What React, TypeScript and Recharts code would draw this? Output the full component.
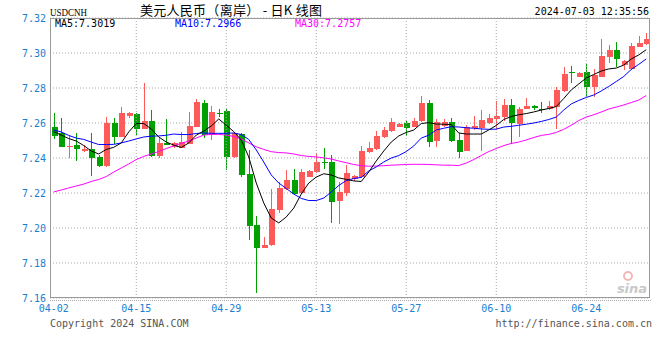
import React from "react";
import {
  Bar,
  CartesianGrid,
  ComposedChart,
  Line,
  ReferenceLine,
  XAxis,
  YAxis,
} from "recharts";

// trading days shown (Sina keeps the Saturday session as its own candle)
const dates = [
  "04-02", "04-03", "04-04", "04-05", "04-06",
  "04-08", "04-09", "04-10", "04-11", "04-12", "04-13",
  "04-15", "04-16", "04-17", "04-18", "04-19", "04-20",
  "04-22", "04-23", "04-24", "04-25", "04-26", "04-27",
  "04-29", "04-30", "05-01", "05-02", "05-03", "05-04",
  "05-06", "05-07", "05-08", "05-09", "05-10", "05-11",
  "05-13", "05-14", "05-15", "05-16", "05-17", "05-18",
  "05-20", "05-21", "05-22", "05-23", "05-24", "05-25",
  "05-27", "05-28", "05-29", "05-30", "05-31", "06-01",
  "06-03", "06-04", "06-05", "06-06", "06-07", "06-08",
  "06-10", "06-11", "06-12", "06-13", "06-14", "06-15",
  "06-17", "06-18", "06-19", "06-20", "06-21", "06-22",
  "06-24", "06-25", "06-26", "06-27", "06-28", "06-29",
  "07-01", "07-02", "07-03",
];

const openPrices = [
  7.2577, 7.2543, 7.2462, 7.2474, 7.244, 7.245, 7.2404, 7.2354, 7.26, 7.2522,
  7.2642, 7.2651, 7.2567, 7.2611, 7.2411, 7.2487, 7.2465, 7.2459, 7.248, 7.2579,
  7.2713, 7.2531, 7.2657, 7.2669, 7.2407, 7.2535, 7.2309, 7.2017, 7.1887, 7.1903,
  7.2103, 7.2223, 7.2274, 7.2198, 7.2293, 7.2322, 7.2379, 7.2379, 7.2156, 7.2202,
  7.2278, 7.229, 7.2433, 7.2453, 7.2518, 7.2556, 7.2579, 7.2602, 7.2579, 7.2611,
  7.2716, 7.2497, 7.2585, 7.2606, 7.2503, 7.2442, 7.257, 7.257, 7.2598, 7.2621,
  7.2633, 7.2703, 7.2594, 7.268, 7.2697, 7.2682, 7.268, 7.269, 7.2783, 7.2889,
  7.2865, 7.289, 7.2807, 7.2865, 7.2979, 7.3017, 7.2931, 7.2907, 7.3036, 7.3051,
];

const highPrices = [
  7.2659, 7.2629, 7.2523, 7.2543, 7.2477, 7.2545, 7.2417, 7.2634, 7.2629, 7.2691,
  7.2662, 7.2655, 7.2827, 7.2674, 7.2513, 7.2621, 7.2493, 7.255, 7.2663, 7.2735,
  7.2731, 7.2695, 7.268, 7.268, 7.255, 7.2545, 7.2446, 7.2069, 7.195, 7.2223,
  7.2265, 7.2331, 7.2337, 7.2337, 7.2331, 7.243, 7.2455, 7.2417, 7.2261, 7.236,
  7.2303, 7.2469, 7.2493, 7.2554, 7.2579, 7.2627, 7.26, 7.2611, 7.2629, 7.2754,
  7.2731, 7.2621, 7.2621, 7.2627, 7.2541, 7.2589, 7.264, 7.2674, 7.265, 7.2726,
  7.2737, 7.2735, 7.2693, 7.2745, 7.2705, 7.2722, 7.2726, 7.2807, 7.2918, 7.2926,
  7.2891, 7.2937, 7.2907, 7.3078, 7.3046, 7.3061, 7.296, 7.3059, 7.3097, 7.3116,
];

const lowPrices = [
  7.2509, 7.2463, 7.24, 7.2383, 7.2434, 7.2297, 7.2346, 7.2346, 7.248, 7.2518,
  7.2627, 7.2533, 7.2563, 7.2408, 7.2402, 7.2472, 7.2455, 7.2455, 7.2478, 7.2575,
  7.2516, 7.2503, 7.2636, 7.2331, 7.2398, 7.2293, 7.1931, 7.163, 7.1885, 7.1899,
  7.2087, 7.2217, 7.2189, 7.2194, 7.229, 7.2316, 7.2337, 7.203, 7.2023, 7.2183,
  7.227, 7.2284, 7.2427, 7.2446, 7.2513, 7.255, 7.2575, 7.2526, 7.2577, 7.2607,
  7.2461, 7.2465, 7.2579, 7.249, 7.2398, 7.244, 7.256, 7.2442, 7.2596, 7.256,
  7.2613, 7.2478, 7.2522, 7.2678, 7.2674, 7.2655, 7.2674, 7.2564, 7.2775, 7.2827,
  7.2863, 7.275, 7.275, 7.2863, 7.2941, 7.2918, 7.2903, 7.2903, 7.3034, 7.3046,
];

const closePrices = [
  7.2526, 7.2465, 7.2466, 7.2451, 7.2451, 7.2402, 7.2354, 7.26, 7.2522, 7.2659,
  7.2659, 7.2566, 7.2611, 7.2411, 7.2487, 7.2474, 7.2484, 7.2493, 7.2583, 7.2722,
  7.2531, 7.2663, 7.2654, 7.2407, 7.2541, 7.2303, 7.2013, 7.1887, 7.1903, 7.2109,
  7.223, 7.2274, 7.2194, 7.2322, 7.2327, 7.2379, 7.2377, 7.215, 7.2204, 7.2313,
  7.2297, 7.2442, 7.2459, 7.2523, 7.256, 7.2607, 7.2594, 7.257, 7.2613, 7.2716,
  7.2493, 7.2606, 7.2606, 7.2497, 7.2436, 7.2579, 7.2583, 7.2617, 7.2627, 7.264,
  7.2703, 7.2598, 7.268, 7.2697, 7.2684, 7.2679, 7.2697, 7.2789, 7.288, 7.2886,
  7.2887, 7.2804, 7.2874, 7.2983, 7.3017, 7.2966, 7.2954, 7.3042, 7.3059, 7.308,
];

// moving averages as drawn on the chart
const ma5 = [
  7.2551, 7.2531, 7.2511, 7.2497, 7.2471, 7.244, 7.2423, 7.2449, 7.2461, 7.2486,
  7.2549, 7.2597, 7.2597, 7.2566, 7.252, 7.2491, 7.2474, 7.246, 7.2486, 7.2531,
  7.2554, 7.2583, 7.2623, 7.2587, 7.2551, 7.2503, 7.2406, 7.2257, 7.2143, 7.2057,
  7.2029, 7.2063, 7.2114, 7.2194, 7.2257, 7.2291, 7.231, 7.2303, 7.2286, 7.2278,
  7.2269, 7.2266, 7.232, 7.2383, 7.244, 7.2491, 7.2526, 7.2546, 7.256, 7.2597,
  7.2602, 7.2594, 7.2593, 7.2591, 7.2543, 7.2537, 7.2537, 7.2537, 7.256, 7.2586,
  7.262, 7.2637, 7.2647, 7.2654, 7.2663, 7.2674, 7.2683, 7.2694, 7.274, 7.2789,
  7.2823, 7.2857, 7.2877, 7.2897, 7.2909, 7.2914, 7.2931, 7.2966, 7.2989, 7.3019,
];

const ma10 = [
  7.256, 7.2549, 7.2529, 7.2514, 7.2506, 7.2491, 7.2477, 7.2477, 7.2478, 7.2486,
  7.2497, 7.2509, 7.252, 7.2525, 7.2526, 7.253, 7.2537, 7.2534, 7.2534, 7.254,
  7.2543, 7.2541, 7.2541, 7.2541, 7.2543, 7.2534, 7.2506, 7.2446, 7.2377, 7.2303,
  7.2257, 7.2226, 7.2194, 7.2169, 7.2157, 7.2157, 7.2171, 7.2206, 7.2243, 7.2271,
  7.2283, 7.2289, 7.2326, 7.2349, 7.2377, 7.24, 7.2414, 7.2437, 7.2469, 7.2514,
  7.253, 7.256, 7.257, 7.2579, 7.2577, 7.2573, 7.257, 7.2566, 7.2564, 7.2565,
  7.2577, 7.2581, 7.2587, 7.2593, 7.26, 7.2609, 7.262, 7.2634, 7.2674, 7.2709,
  7.2729, 7.2746, 7.276, 7.2783, 7.2809, 7.2837, 7.2866, 7.2906, 7.2935, 7.2966,
];

const ma30 = [
  7.2206, 7.2217, 7.2229, 7.224, 7.2251, 7.2266, 7.2277, 7.2294, 7.232, 7.2343,
  7.2366, 7.2391, 7.2409, 7.2423, 7.2437, 7.2454, 7.2469, 7.2484, 7.2497, 7.2514,
  7.2531, 7.2535, 7.2535, 7.2531, 7.2523, 7.2509, 7.2486, 7.2464, 7.2449, 7.2436,
  7.2431, 7.2429, 7.2423, 7.2414, 7.2409, 7.2406, 7.2401, 7.2394, 7.2383, 7.2373,
  7.2363, 7.2356, 7.2353, 7.2354, 7.2356, 7.2359, 7.2361, 7.2363, 7.2364, 7.2364,
  7.2363, 7.2361, 7.2359, 7.2359, 7.2357, 7.2371, 7.2391, 7.2414, 7.2437, 7.2454,
  7.2471, 7.2483, 7.2491, 7.2503, 7.2517, 7.2529, 7.2535, 7.2546, 7.2564, 7.2587,
  7.2614, 7.2634, 7.2647, 7.2663, 7.268, 7.2691, 7.2703, 7.2717, 7.2731, 7.2757,
];

const priceTicks = [7.16, 7.18, 7.2, 7.22, 7.24, 7.26, 7.28, 7.3, 7.32];
const dateTicks = ["04-02", "04-15", "04-29", "05-13", "05-27", "06-10", "06-24"];

const UP = "#ff5a5a";
const DOWN = "#00a000";
const AXIS_BLUE = "#1a80d0";
const MONO = "'DejaVu Sans Mono', monospace";

const rows = dates.map((date, i) => ({
  date,
  open: openPrices[i],
  high: highPrices[i],
  low: lowPrices[i],
  close: closePrices[i],
  range: [lowPrices[i], highPrices[i]],
  ma5: ma5[i],
  ma10: ma10[i],
  ma30: ma30[i],
}));

// bar gets the low..high span, body is placed inside it proportionally
const Candle = (props: any) => {
  const { x, y, width, height, payload } = props;
  const { open, close, high, low } = payload;
  const cx = Math.floor(x + width / 2);
  const k = height / (high - low);
  const top = y + (high - Math.max(open, close)) * k;
  const bottom = y + (high - Math.min(open, close)) * k;
  const color = close >= open ? UP : DOWN;
  return (
    <g shapeRendering="crispEdges">
      <rect x={cx} y={y} width={1} height={Math.max(1, height)} fill={color} />
      <rect
        x={cx - 2}
        y={top}
        width={6}
        height={Math.max(1, bottom - top)}
        fill={color}
      />
    </g>
  );
};

export default function App() {
  return (
    <div
      style={{
        position: "absolute",
        left: 0,
        top: 0,
        width: 660,
        height: 360,
        background: "#fff",
      }}
    >
      <ComposedChart
        width={660}
        height={360}
        data={rows}
        margin={{ top: 18, right: 10, bottom: 32, left: 0 }}
      >
        <CartesianGrid
          vertical={false}
          stroke="#a8a8a8"
          strokeDasharray="1 2"
        />
        {dateTicks.slice(1).map((d) => (
          <ReferenceLine
            key={d}
            x={d}
            stroke="#a8a8a8"
            strokeDasharray="1 2"
          />
        ))}
        <XAxis
          dataKey="date"
          ticks={dateTicks}
          interval={0}
          tickLine={false}
          axisLine={false}
          tickSize={0}
          tickMargin={7}
          height={30}
          tick={{ fill: AXIS_BLUE, fontSize: 10, fontFamily: MONO }}
        />
        <YAxis
          domain={[7.16, 7.32]}
          ticks={priceTicks}
          interval={0}
          width={50}
          tickLine={false}
          axisLine={false}
          tickSize={0}
          tickMargin={4}
          tickFormatter={(v: number) => v.toFixed(2)}
          tick={{ fill: AXIS_BLUE, fontSize: 10, fontFamily: MONO }}
        />
        <Bar
          dataKey="range"
          barSize={6}
          shape={<Candle />}
          isAnimationActive={false}
        />
        <Line
          type="linear"
          dataKey="ma30"
          stroke="#ff00ff"
          strokeWidth={1}
          dot={false}
          isAnimationActive={false}
        />
        <Line
          type="linear"
          dataKey="ma10"
          stroke="#0000ff"
          strokeWidth={1}
          dot={false}
          isAnimationActive={false}
        />
        <Line
          type="linear"
          dataKey="ma5"
          stroke="#000000"
          strokeWidth={1}
          dot={false}
          isAnimationActive={false}
        />
      </ComposedChart>

      {/* frame, header, legend and footer texts */}
      <svg
        width={660}
        height={360}
        style={{ position: "absolute", left: 0, top: 0, pointerEvents: "none" }}
      >
        <rect
          x={50.5}
          y={18.5}
          width={599}
          height={279}
          fill="none"
          stroke="#999"
          shapeRendering="crispEdges"
        />
        <line
          x1={50}
          x2={651}
          y1={300.5}
          y2={300.5}
          stroke="#aaa"
          strokeDasharray="1 1"
        />
        <text
          x={50}
          y={16}
          fontFamily="'Liberation Serif', serif"
          fontSize={11}
          textLength={37}
          lengthAdjust="spacingAndGlyphs"
          fill="#000"
        >
          USDCNH
        </text>
        <text
          x={140}
          y={15}
          fontFamily="'Noto Sans CJK SC', sans-serif"
          fontSize={13}
          textLength={182}
          lengthAdjust="spacing"
          fill="#000"
        >
          美元人民币（离岸） - 日K 线图
        </text>
        <text x={649} y={15} textAnchor="end" fontFamily={MONO} fontSize={10} fill="#000">
          2024-07-03 12:35:56
        </text>
        <text x={55} y={27} fontFamily={MONO} fontSize={10} fill="#000">
          MA5:7.3019
        </text>
        <text x={175} y={27} fontFamily={MONO} fontSize={10} fill="#0000ff">
          MA10:7.2966
        </text>
        <text x={295} y={27} fontFamily={MONO} fontSize={10} fill="#ff00ff">
          MA30:7.2757
        </text>
        <text x={50} y={327} fontFamily={MONO} fontSize={10} fill="#555">
          Copyright 2024 SINA.COM
        </text>
        <text x={652} y={327} textAnchor="end" fontFamily={MONO} fontSize={10} fill="#555">
          http://finance.sina.com.cn
        </text>
        <circle cx={628} cy={276} r={4} fill="none" stroke="#f2b8b8" strokeWidth={2} />
        <text
          x={632}
          y={293}
          textAnchor="middle"
          fontFamily="'DejaVu Sans', sans-serif"
          fontStyle="italic"
          fontWeight="bold"
          fontSize={13}
          fill="#c8c8c8"
        >
          sina
        </text>
      </svg>
    </div>
  );
}
